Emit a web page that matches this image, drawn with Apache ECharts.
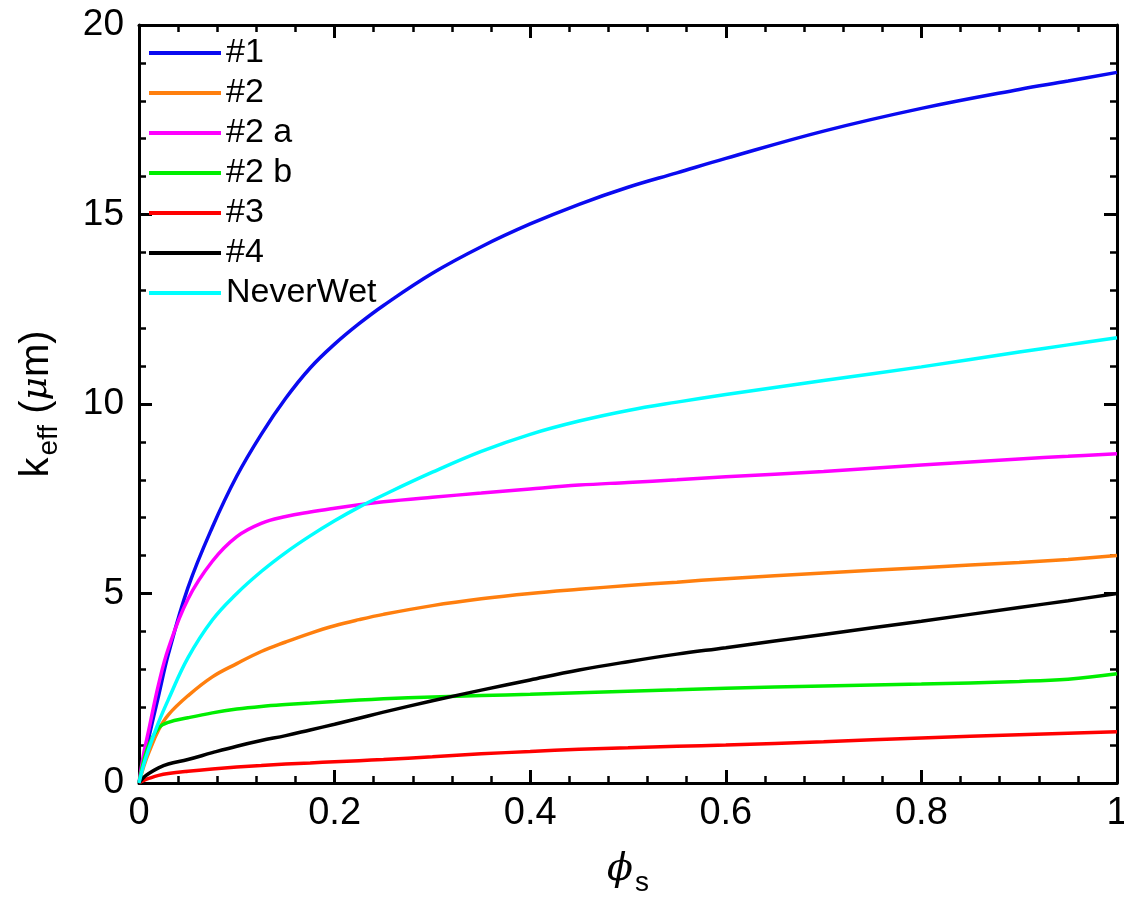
<!DOCTYPE html>
<html>
<head>
<meta charset="utf-8">
<script src="https://cdn.jsdelivr.net/npm/echarts@6/dist/echarts.min.js"></script>
<style>
    html, body { margin: 0; padding: 0; background: #fff; }
    #chart { width: 1124px; height: 899px; }
</style>
</head>
<body>
<div id="chart"></div>
<script>
// phi_s sample points shared by every curve
const phi = [0, 0.005, 0.01, 0.02, 0.03, 0.05, 0.075, 0.1, 0.125, 0.15, 0.175, 0.2, 0.225, 0.25, 0.3, 0.35, 0.4, 0.45, 0.5, 0.55, 0.6, 0.7, 0.8, 0.9, 0.95, 1];

// k_eff in micrometres
const k1 = [0, 0.6, 1.2, 2.3, 3.4, 5.15, 6.75, 8.1, 9.2, 10.15, 10.95, 11.58, 12.12, 12.6, 13.45, 14.15, 14.75, 15.27, 15.72, 16.1, 16.48, 17.2, 17.8, 18.3, 18.52, 18.75];
const k2 = [0, 0.45, 0.8, 1.4, 1.8, 2.3, 2.8, 3.15, 3.47, 3.72, 3.95, 4.15, 4.31, 4.45, 4.68, 4.86, 5.0, 5.11, 5.21, 5.3, 5.39, 5.54, 5.68, 5.82, 5.9, 6.0];
const k2a = [0, 0.8, 1.4, 2.6, 3.55, 4.85, 5.85, 6.5, 6.85, 7.03, 7.15, 7.25, 7.34, 7.42, 7.54, 7.65, 7.76, 7.86, 7.93, 8.0, 8.08, 8.22, 8.39, 8.55, 8.62, 8.69];
const k2b = [0, 0.6, 1.0, 1.45, 1.6, 1.72, 1.85, 1.95, 2.02, 2.07, 2.11, 2.15, 2.19, 2.22, 2.27, 2.31, 2.34, 2.38, 2.42, 2.46, 2.5, 2.56, 2.61, 2.68, 2.74, 2.88];
const k3 = [0, 0.07, 0.12, 0.2, 0.25, 0.31, 0.37, 0.42, 0.46, 0.5, 0.53, 0.56, 0.59, 0.62, 0.69, 0.77, 0.83, 0.89, 0.93, 0.97, 1.0, 1.09, 1.19, 1.27, 1.31, 1.35];
const k4 = [0, 0.15, 0.25, 0.4, 0.5, 0.62, 0.8, 0.97, 1.12, 1.25, 1.4, 1.55, 1.71, 1.87, 2.17, 2.45, 2.72, 2.98, 3.2, 3.4, 3.57, 3.92, 4.27, 4.63, 4.81, 5.0];
const kNeverWet = [0, 0.5, 0.9, 1.6, 2.2, 3.3, 4.3, 5.0, 5.58, 6.08, 6.52, 6.92, 7.28, 7.6, 8.2, 8.75, 9.2, 9.55, 9.83, 10.05, 10.25, 10.62, 10.98, 11.37, 11.56, 11.75];

const seriesNames = ["#1", "#2", "#2 a", "#2 b", "#3", "#4", "NeverWet"];
const seriesValues = [k1, k2, k2a, k2b, k3, k4, kNeverWet];
const seriesColors = ["#0a0af0", "#ff7f0e", "#ff00ff", "#00ee00", "#ff0000", "#000000", "#00ffff"];

const FONT = "Liberation Sans, Arial, Helvetica, sans-serif";

const chart = echarts.init(document.getElementById("chart"), null, { renderer: "canvas" });

// frame axes: ticks point inward on all four sides
const axisCommon = {
    axisLine: { show: true, onZero: false, lineStyle: { color: "#000", width: 3 } },
    axisTick: { show: true, inside: true, length: 13, lineStyle: { color: "#000", width: 3 } },
    minorTick: { show: true, splitNumber: 5, length: 7, lineStyle: { color: "#000", width: 2.5 } },
    splitLine: { show: false },
    minorSplitLine: { show: false }
};

const series = seriesNames.map((name, i) => ({
    name: name,
    type: "line",
    xAxisIndex: 0,
    yAxisIndex: 0,
    data: phi.map((x, j) => [x, seriesValues[i][j]]),
    smooth: 0.4,
    symbol: "none",
    showSymbol: false,
    lineStyle: { color: seriesColors[i], width: 3.5 },
    itemStyle: { color: seriesColors[i] },
    z: 2
}));

const option = {
    backgroundColor: "#fff",
    animation: false,
    grid: { left: 139, right: 7, top: 25, bottom: 116, containLabel: false, outerBoundsMode: "none" },
    legend: {
        orient: "vertical",
        left: 149,
        top: 36,
        padding: 0,
        itemWidth: 72,
        itemHeight: 30,
        itemGap: 6,
        icon: "path://M0,0L72,0L72,4L0,4Z",
        textStyle: { fontFamily: FONT, fontSize: 34, lineHeight: 30, color: "#000" },
        data: seriesNames.map((n, i) => ({ name: n, itemStyle: { color: seriesColors[i] } }))
    },
    xAxis: [
        Object.assign({}, axisCommon, {
            type: "value",
            position: "bottom",
            min: 0,
            max: 1,
            interval: 0.2,
            name: "{phi|ϕ}{sub|s}",
            nameLocation: "middle",
            nameGap: 60,
            nameTextStyle: {
                rich: {
                    phi: { fontFamily: "DejaVu Serif, serif", fontStyle: "italic", fontSize: 38, color: "#000" },
                    sub: { fontFamily: FONT, fontSize: 28, color: "#000", padding: [26, 0, 0, 2] }
                }
            },
            axisLabel: { fontFamily: FONT, fontSize: 38, color: "#000", margin: 12 }
        }),
        Object.assign({}, axisCommon, {
            type: "value",
            position: "top",
            min: 0,
            max: 1,
            interval: 0.2,
            axisLabel: { show: false }
        })
    ],
    yAxis: [
        Object.assign({}, axisCommon, {
            type: "value",
            position: "left",
            min: 0,
            max: 20,
            interval: 5,
            name: "{k|k}{sub|eff}{k| (}{mu|μ}{k|m)}",
            nameLocation: "middle",
            nameGap: 76,
            nameTextStyle: {
                rich: {
                    k: { fontFamily: FONT, fontSize: 40, color: "#000" },
                    mu: { fontFamily: "DejaVu Serif, serif", fontStyle: "italic", fontSize: 36, color: "#000" },
                    sub: { fontFamily: FONT, fontSize: 28, color: "#000", padding: [24, 0, 0, 2] }
                }
            },
            axisLabel: { fontFamily: FONT, fontSize: 37, color: "#000", margin: 15 }
        }),
        Object.assign({}, axisCommon, {
            type: "value",
            position: "right",
            min: 0,
            max: 20,
            interval: 5,
            axisLabel: { show: false }
        })
    ],
    series: series
};

chart.setOption(option);
</script>
</body>
</html>
